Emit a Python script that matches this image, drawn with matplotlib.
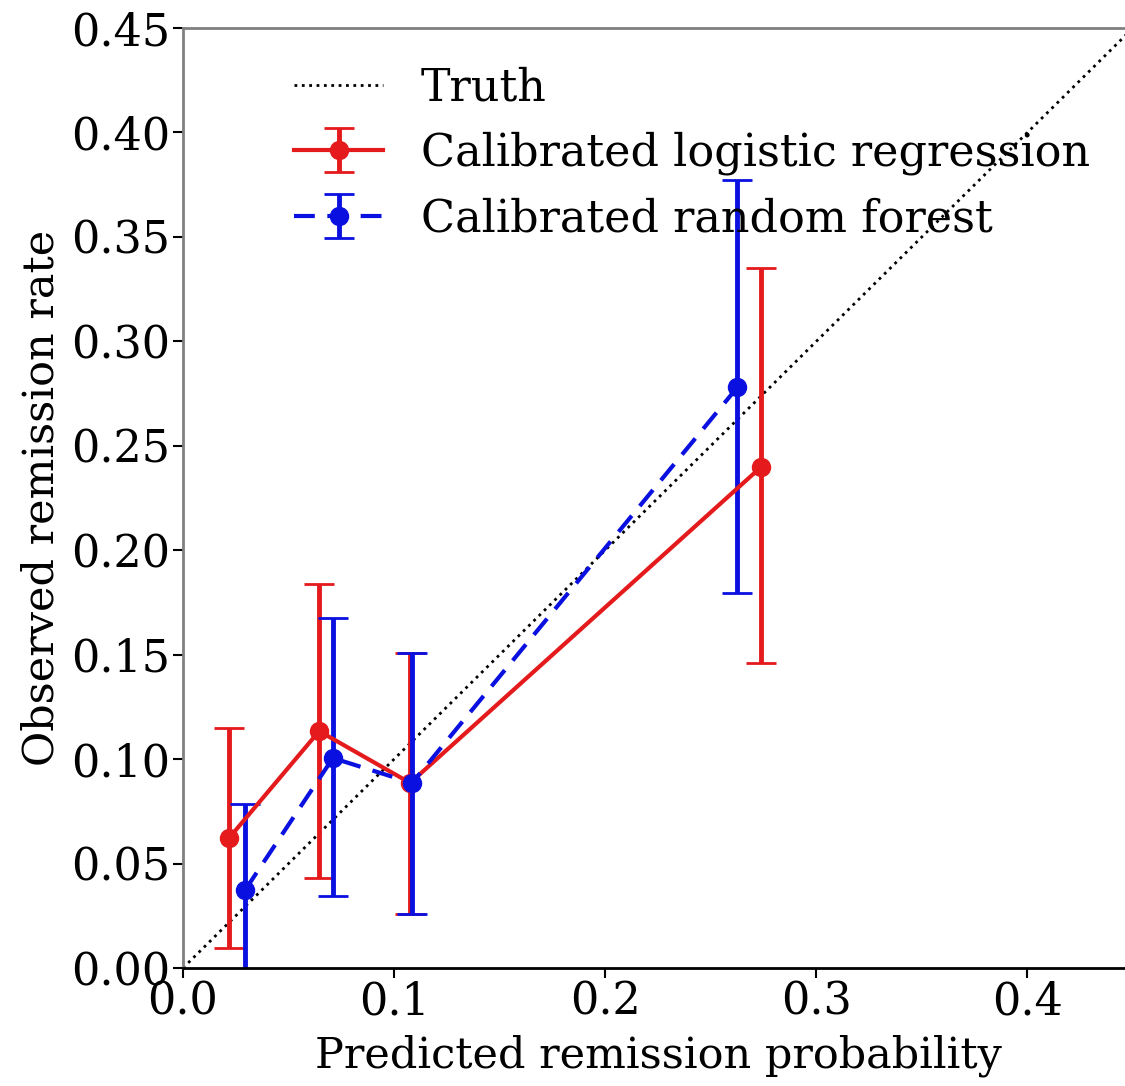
import numpy as np
import matplotlib
matplotlib.use("Agg")
import matplotlib.pyplot as plt

# calibrated logistic regression
lr_x = [0.0218, 0.0645, 0.1076, 0.274]
lr_y = [0.0622, 0.1134, 0.0886, 0.240]
lr_hi = [0.115, 0.184, 0.151, 0.335]
lr_lo = [0.0096, 0.0431, 0.0258, 0.146]

# calibrated random forest
rf_x = [0.0294, 0.071, 0.1085, 0.2626]
rf_y = [0.0373, 0.1005, 0.0886, 0.278]
rf_hi = [0.0785, 0.1675, 0.151, 0.377]
rf_lo = [-0.01, 0.0345, 0.0258, 0.1795]

xticks = [0.0, 0.1, 0.2, 0.3, 0.4]
yticks = [0.00, 0.05, 0.10, 0.15, 0.20, 0.25, 0.30, 0.35, 0.40, 0.45]

plt.rcParams['font.family'] = ['DejaVu Serif']
plt.rcParams['font.size'] = 32

fig = plt.figure(figsize=(11.25, 10.86), dpi=100)
ax = fig.add_axes([183/1125, 118/1086, 950/1125, 940/1086])

ax.plot([0, 0.45], [0, 0.45], color='black', linestyle=':', lw=2, label='Truth')

def errs(y, lo, hi):
    y = np.array(y)
    return [y - np.array(lo), np.array(hi) - y]

ax.errorbar(lr_x, lr_y, yerr=errs(lr_y, lr_lo, lr_hi), color='#e41a1c',
            linestyle='-', lw=3, marker='o', ms=13, elinewidth=3.5,
            capsize=10.5, capthick=2, label='Calibrated logistic regression')
ax.errorbar(rf_x, rf_y, yerr=errs(rf_y, rf_lo, rf_hi), color='#0a10e0',
            linestyle='--', lw=3, marker='o', ms=13, elinewidth=3.5,
            capsize=10.5, capthick=2, dashes=(5, 3),
            label='Calibrated random forest')

ax.set_xlim(0, 0.45)
ax.set_ylim(0, 0.45)
ax.set_xticks(xticks)
ax.set_xticklabels(['%.1f' % t for t in xticks])
ax.set_yticks(yticks)
ax.set_yticklabels(['%.2f' % t for t in yticks])
ax.tick_params(direction='out', length=7, width=1.5, pad=2)

ax.spines['left'].set_color('#808080')
ax.spines['top'].set_color('#808080')
ax.spines['bottom'].set_color('black')
for s in ax.spines.values():
    s.set_linewidth(2)

ax.set_xlabel('Predicted remission probability', fontsize=31, labelpad=8)
ax.set_ylabel('Observed remission rate', fontsize=31, labelpad=6)

ax.legend(loc='upper left', bbox_to_anchor=(0.075, 1.002), frameon=False,
          handlelength=2.0, handletextpad=0.85, labelspacing=0.5)

fig.savefig('out.png', dpi=100)
